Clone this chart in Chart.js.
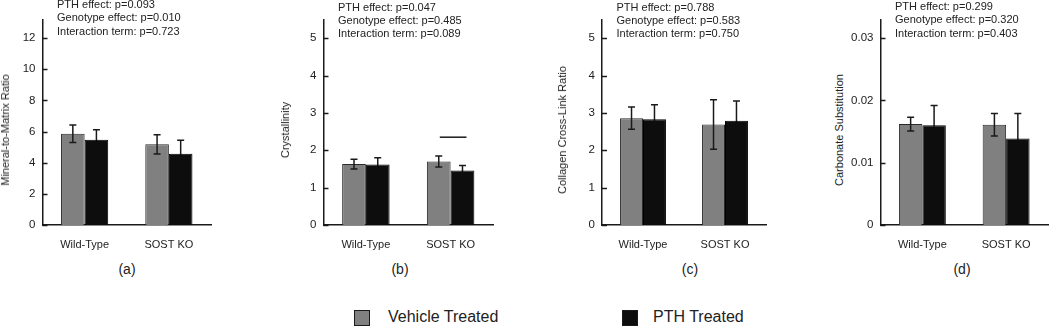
<!DOCTYPE html>
<html>
<head>
<meta charset="utf-8">
<script src="https://cdn.jsdelivr.net/npm/chart.js@4.4.1/dist/chart.umd.min.js"></script>
<style>
  body { margin: 0; width: 1050px; height: 326px; position: relative; overflow: hidden; background: #fff;
         font-family: "Liberation Sans", Arial, sans-serif; color: #222; }
  .panel { position: absolute; top: 0; }
  .stats { position: absolute; font-size: 11px; line-height: 13.3px; white-space: nowrap; color: #222; }
  .ytitle { position: absolute; font-size: 11px; white-space: nowrap; color: #222;
            transform: translate(-50%, -50%) rotate(-90deg); }
  .tag { position: absolute; font-size: 14px; transform: translateX(-50%); top: 261px; color: #222; }
  .key { position: absolute; top: 310px; width: 14px; height: 14px; border: 1px solid #1a1a1a; }
  .keytext { position: absolute; top: 308px; font-size: 16px; color: #222; white-space: nowrap; }
</style>
</head>
<body>
<div id="root"></div>
<div class="key" style="left:354px;background:#808080"></div>
<div class="keytext" style="left:388px">Vehicle Treated</div>
<div class="key" style="left:622px;background:#0d0d0d"></div>
<div class="keytext" style="left:653px">PTH Treated</div>
<script>
const groups = ['Wild-Type', 'SOST KO'];
const seriesNames = ['Vehicle Treated', 'PTH Treated'];

// (a) mineral-to-matrix
const mmrVehicle = [5.86, 5.18];
const mmrVehicleSd = [0.56, 0.62];
const mmrPth = [5.48, 4.58];
const mmrPthSd = [0.64, 0.86];
const mmrTicks = [0, 2, 4, 6, 8, 10, 12];
const mmrStats = ['PTH effect: p=0.093', 'Genotype effect: p=0.010', 'Interaction term: p=0.723'];

// (b) crystallinity
const crysVehicle = [1.63, 1.70];
const crysVehicleSd = [0.13, 0.15];
const crysPth = [1.62, 1.46];
const crysPthSd = [0.18, 0.13];
const crysTicks = [0, 1, 2, 3, 4, 5];
const crysStats = ['PTH effect: p=0.047', 'Genotype effect: p=0.485', 'Interaction term: p=0.089'];
const crysSigBar = 2.35;

// (c) collagen cross-link
const xlVehicle = [2.86, 2.69];
const xlVehicleSd = [0.30, 0.66];
const xlPth = [2.83, 2.79];
const xlPthSd = [0.39, 0.53];
const xlTicks = [0, 1, 2, 3, 4, 5];
const xlStats = ['PTH effect: p=0.788', 'Genotype effect: p=0.583', 'Interaction term: p=0.750'];

// (d) carbonate substitution
const carbVehicle = [0.0162, 0.0161];
const carbVehicleSd = [0.0011, 0.0018];
const carbPth = [0.0160, 0.0139];
const carbPthSd = [0.0032, 0.0040];
const carbTicks = [0, 0.01, 0.02, 0.03];
const carbStats = ['PTH effect: p=0.299', 'Genotype effect: p=0.320', 'Interaction term: p=0.403'];

const panels = [
  { tag: '(a)', title: 'Mineral-to-Matrix Ratio', veh: mmrVehicle, vehSd: mmrVehicleSd, pth: mmrPth, pthSd: mmrPthSd, ticks: mmrTicks, max: 13.2, stats: mmrStats },
  { tag: '(b)', title: 'Crystallinity', veh: crysVehicle, vehSd: crysVehicleSd, pth: crysPth, pthSd: crysPthSd, ticks: crysTicks, max: 5.5, stats: crysStats, sig: crysSigBar },
  { tag: '(c)', title: 'Collagen Cross-Link Ratio', veh: xlVehicle, vehSd: xlVehicleSd, pth: xlPth, pthSd: xlPthSd, ticks: xlTicks, max: 5.5, stats: xlStats },
  { tag: '(d)', title: 'Carbonate Substitution', veh: carbVehicle, vehSd: carbVehicleSd, pth: carbPth, pthSd: carbPthSd, ticks: carbTicks, max: 0.033, stats: carbStats }
];

// page placement of each panel
const layout = [
  { axisLeft: 42.5, axisRight: 211, titleX: 5, statsTop: -2, tagX: 127 },
  { axisLeft: 323.5, axisRight: 492.5, titleX: 285, statsTop: 0.5, tagX: 400 },
  { axisLeft: 602, axisRight: 766, titleX: 562, statsTop: 0.5, tagX: 690 },
  { axisLeft: 880.5, axisRight: 1048, titleX: 839, statsTop: 0, tagX: 962 }
];

const INK = '#1a1a1a';

function drawErrors(chart, idx) {
  const ctx = chart.ctx, y = chart.scales.y;
  const ds = chart.data.datasets[idx];
  chart.getDatasetMeta(idx).data.forEach((bar, j) => {
    const top = y.getPixelForValue(ds.data[j] + ds.errors[j]);
    const bot = y.getPixelForValue(ds.data[j] - ds.errors[j]);
    ctx.beginPath();
    ctx.moveTo(bar.x, top); ctx.lineTo(bar.x, bot);
    ctx.moveTo(bar.x - 3.5, top); ctx.lineTo(bar.x + 3.5, top);
    ctx.moveTo(bar.x - 3.5, bot); ctx.lineTo(bar.x + 3.5, bot);
    ctx.stroke();
  });
}

const errorBars = {
  id: 'errorBars',
  beforeDatasetsDraw(chart) {
    // PTH bars are drawn over their own error bars, hiding the lower half
    const ctx = chart.ctx;
    ctx.save();
    ctx.strokeStyle = INK;
    ctx.lineWidth = 1.5;
    drawErrors(chart, 1);
    ctx.restore();
  },
  afterDatasetsDraw(chart) {
    const ctx = chart.ctx, y = chart.scales.y;
    ctx.save();
    ctx.strokeStyle = INK;
    ctx.lineWidth = 1.5;
    drawErrors(chart, 0);
    // inward y ticks
    const left = chart.chartArea.left;
    y.ticks.forEach(t => {
      const py = Math.round(y.getPixelForValue(t.value)) + 0.5;
      ctx.beginPath();
      ctx.moveTo(left, py); ctx.lineTo(left + 5, py);
      ctx.stroke();
    });
    // significance bar
    const sig = chart.options.plugins.sigBar;
    if (sig && sig.value != null) {
      const b0 = chart.getDatasetMeta(0).data[sig.group];
      const b1 = chart.getDatasetMeta(1).data[sig.group];
      const py = y.getPixelForValue(sig.value);
      ctx.beginPath();
      ctx.moveTo(b0.x + 1, py); ctx.lineTo(b1.x + 4, py);
      ctx.stroke();
    }
    ctx.restore();
  }
};

const root = document.getElementById('root');

panels.forEach((p, k) => {
  const L = layout[k];
  const boxLeft = Math.round(L.axisLeft - 36);
  const yWidth = L.axisLeft - boxLeft;
  const padRight = 3;
  const w = Math.ceil(L.axisRight + padRight - boxLeft);

  const box = document.createElement('div');
  box.className = 'panel';
  box.style.left = boxLeft + 'px';
  const canvas = document.createElement('canvas');
  canvas.width = w;
  canvas.height = 260;
  canvas.style.width = w + 'px';
  canvas.style.height = '260px';
  box.appendChild(canvas);
  root.appendChild(box);

  const stats = document.createElement('div');
  stats.className = 'stats';
  stats.style.left = (L.axisLeft + 14.5) + 'px';
  stats.style.top = L.statsTop + 'px';
  stats.innerHTML = p.stats.join('<br>');
  root.appendChild(stats);

  const ytitle = document.createElement('div');
  ytitle.className = 'ytitle';
  ytitle.style.left = L.titleX + 'px';
  ytitle.style.top = '129.5px';
  ytitle.textContent = p.title;
  root.appendChild(ytitle);

  const tag = document.createElement('div');
  tag.className = 'tag';
  tag.style.left = L.tagX + 'px';
  tag.textContent = p.tag;
  root.appendChild(tag);

  new Chart(canvas.getContext('2d'), {
    type: 'bar',
    data: {
      labels: groups,
      datasets: [{
        label: seriesNames[0],
        data: p.veh,
        errors: p.vehSd,
        backgroundColor: '#808080',
        borderColor: '#2a2a2a',
        borderWidth: 1
      }, {
        label: seriesNames[1],
        data: p.pth,
        errors: p.pthSd,
        backgroundColor: '#0d0d0d',
        borderColor: '#000',
        borderWidth: 1
      }]
    },
    options: {
      responsive: false,
      animation: false,
      layout: { padding: { top: 19.5, right: padRight, left: 0, bottom: 0 } },
      datasets: { bar: { barPercentage: 1, categoryPercentage: 0.56 } },
      plugins: {
        legend: { display: false },
        tooltip: { enabled: false },
        sigBar: { group: 1, value: p.sig }
      },
      scales: {
        x: {
          grid: { display: false, drawTicks: false },
          border: { display: true, color: INK, width: 1.5 },
          ticks: { color: '#222', padding: 13, font: { family: 'Liberation Sans', size: 11 } },
          afterFit(s) { s.height = 35; }
        },
        y: {
          min: 0,
          max: p.max,
          afterBuildTicks(s) { s.ticks = p.ticks.map(v => ({ value: v })); },
          grid: { display: false, drawTicks: false },
          border: { display: true, color: INK, width: 1.5 },
          ticks: {
            color: '#222',
            padding: 7,
            font: { family: 'Liberation Sans', size: 11.5 },
            callback: v => String(+v.toFixed(4))
          },
          afterFit(s) { s.width = yWidth; }
        }
      }
    },
    plugins: [errorBars]
  });
});
</script>
</body>
</html>
